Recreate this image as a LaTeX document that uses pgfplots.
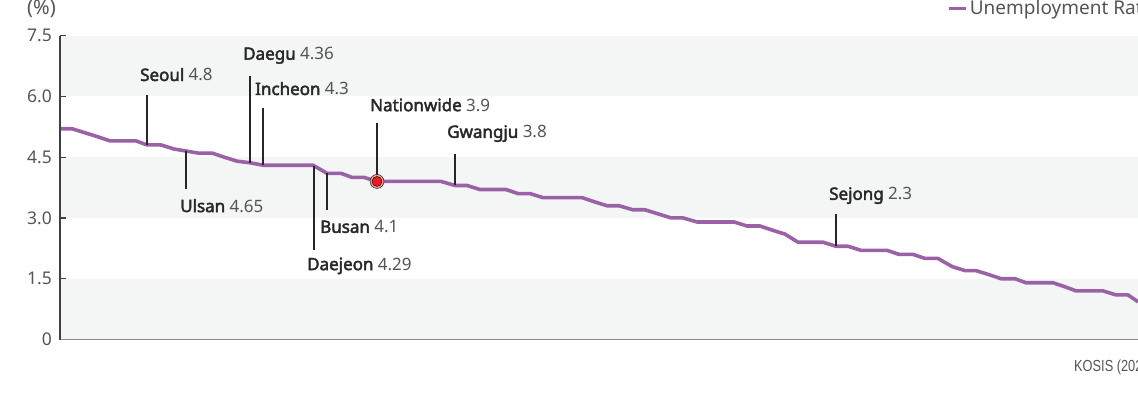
\documentclass[border=0pt]{standalone}
\usepackage{pgfplots}
\pgfplotsset{compat=1.18}
\usepackage{fontspec}
\setmainfont{Noto Sans}[AutoFakeBold=2.5]
\newfontfamily\narrowfont{Liberation Sans}

\definecolor{linepurple}{RGB}{154,97,166}
\definecolor{bandgray}{RGB}{244,246,246}
\definecolor{namegray}{RGB}{40,40,40}
\definecolor{valgray}{RGB}{85,85,85}
\definecolor{dotred}{RGB}{235,28,36}
\definecolor{halored}{RGB}{246,150,150}

% region label: bold name, lighter value
\newcommand{\lab}[2]{\textbf{#1} {\color{valgray}#2}}

\begin{document}
\begin{tikzpicture}[x=1pt,y=1pt]
\path[use as bounding box] (0,0) rectangle (1138,400);
\clip (0,0) rectangle (1138,400);

\begin{axis}[
    at={(60pt,60.5pt)},
    anchor=south west,
    width=1078pt,
    height=304pt,
    scale only axis,
    xmin=60, xmax=1138,
    ymin=0, ymax=7.5,
    axis x line*=bottom,
    axis y line*=left,
    x axis line style={draw=black!45, line width=1.5pt},
    y axis line style={draw=black!75, line width=1.3pt},
    xtick=\empty,
    ytick={0,1.5,3,4.5,6,7.5},
    yticklabels={0,1.5,3.0,4.5,6.0,7.5},
    tick align=inside,
    major tick length=6pt,
    ytick style={draw=black!75, line width=1.2pt},
    yticklabel style={font=\fontsize{17.5}{20}\selectfont, text=valgray, inner sep=0pt, xshift=-8pt},
    /pgf/number format/assume math mode=true,
    axis on top,
    clip=false,
    legend style={
        at={(axis cs:947,8.167)},
        anchor=west,
        draw=none,
        fill=none,
        inner sep=0pt,
        font=\fontsize{19}{22}\selectfont,
        text=valgray,
    },
    legend image code/.code={\draw[#1] (0pt,0pt) -- (17pt,0pt);},
]

% alternating background bands
\fill[bandgray] (axis cs:60,0) rectangle (axis cs:1138,1.5);
\fill[bandgray] (axis cs:60,3) rectangle (axis cs:1138,4.5);
\fill[bandgray] (axis cs:60,6) rectangle (axis cs:1138,7.5);

\addplot[color=linepurple, line width=3.6pt, line join=round]
coordinates {
    (60,5.2) (72,5.2) (85,5.1) (98,5.0) (110,4.9) (136,4.9) (147,4.8)
    (161,4.8) (174,4.7) (186,4.65) (198,4.6) (212,4.6) (224,4.5) (237,4.4)
    (250,4.36) (263,4.3) (313,4.3) (327,4.1) (341,4.1) (352,4.0) (364,4.0)
    (377,3.9) (441,3.9) (455,3.8) (467,3.8) (480,3.7) (506,3.7) (518,3.6)
    (530,3.6) (543,3.5) (582,3.5) (594,3.4) (607,3.3) (619,3.3) (633,3.2)
    (645,3.2) (658,3.1) (671,3.0) (683,3.0) (697,2.9) (734,2.9) (747,2.8)
    (760,2.8) (772,2.7) (785,2.6) (798,2.4) (823,2.4) (836,2.3) (848,2.3)
    (861,2.2) (887,2.2) (899,2.1) (913,2.1) (925,2.0) (938,2.0) (952,1.8)
    (965,1.7) (976,1.7) (989,1.6) (1001,1.5) (1015,1.5) (1026,1.4) (1053,1.4)
    (1065,1.3) (1076,1.2) (1103,1.2) (1116,1.1) (1128,1.1) (1138,0.93)
};
\addlegendentry{Unemployment Rate}

% leader lines
\draw[black!85, line width=1.2pt] (axis cs:147,6.04) -- (axis cs:147,4.8);
\draw[black!85, line width=1.2pt] (axis cs:250,6.51) -- (axis cs:250,4.36);
\draw[black!85, line width=1.2pt] (axis cs:263,5.72) -- (axis cs:263,4.3);
\draw[black!85, line width=1.2pt] (axis cs:186,4.65) -- (axis cs:186,3.72);
\draw[black!85, line width=1.2pt] (axis cs:314,4.29) -- (axis cs:314,2.21);
\draw[black!85, line width=1.2pt] (axis cs:327,4.1) -- (axis cs:327,3.20);
\draw[black!85, line width=1.2pt] (axis cs:377,5.35) -- (axis cs:377,4.05);
\draw[black!85, line width=1.2pt] (axis cs:455,4.58) -- (axis cs:455,3.8);
\draw[black!85, line width=1.2pt] (axis cs:836,3.10) -- (axis cs:836,2.3);

% nationwide marker
\addplot[only marks, mark=*, mark size=7pt, mark options={draw=none, fill=halored}, forget plot]
coordinates {(377,3.9)};
\addplot[only marks, mark=*, mark size=5pt, mark options={draw=none, fill=dotred}, forget plot]
coordinates {(377,3.9)};

% region labels
\begin{scope}[every node/.style={anchor=west, inner sep=0pt, text=namegray, font=\fontsize{17}{20}\selectfont}]
\node at (axis cs:140,6.536) {\lab{Seoul}{4.8}};
\node at (axis cs:243,7.005) {\lab{Daegu}{4.36}};
\node at (axis cs:255,6.19) {\lab{Incheon}{4.3}};
\node at (axis cs:180,3.30) {\lab{Ulsan}{4.65}};
\node at (axis cs:307,1.816) {\lab{Daejeon}{4.29}};
\node at (axis cs:320,2.78) {\lab{Busan}{4.1}};
\node at (axis cs:370,5.79) {\lab{Nationwide}{3.9}};
\node at (axis cs:447,5.08) {\lab{Gwangju}{3.8}};
\node at (axis cs:829,3.55) {\lab{Sejong}{2.3}};
\end{scope}

\end{axis}

\node[anchor=west, inner sep=0pt, text=valgray, font=\fontsize{20}{22}\selectfont] at (27,391) {(\%)};
\node[anchor=west, inner sep=0pt, text=valgray, font=\narrowfont\fontsize{16}{18}\selectfont, xscale=0.8] at (1074,33) {KOSIS (2023)};
\end{tikzpicture}
\end{document}
